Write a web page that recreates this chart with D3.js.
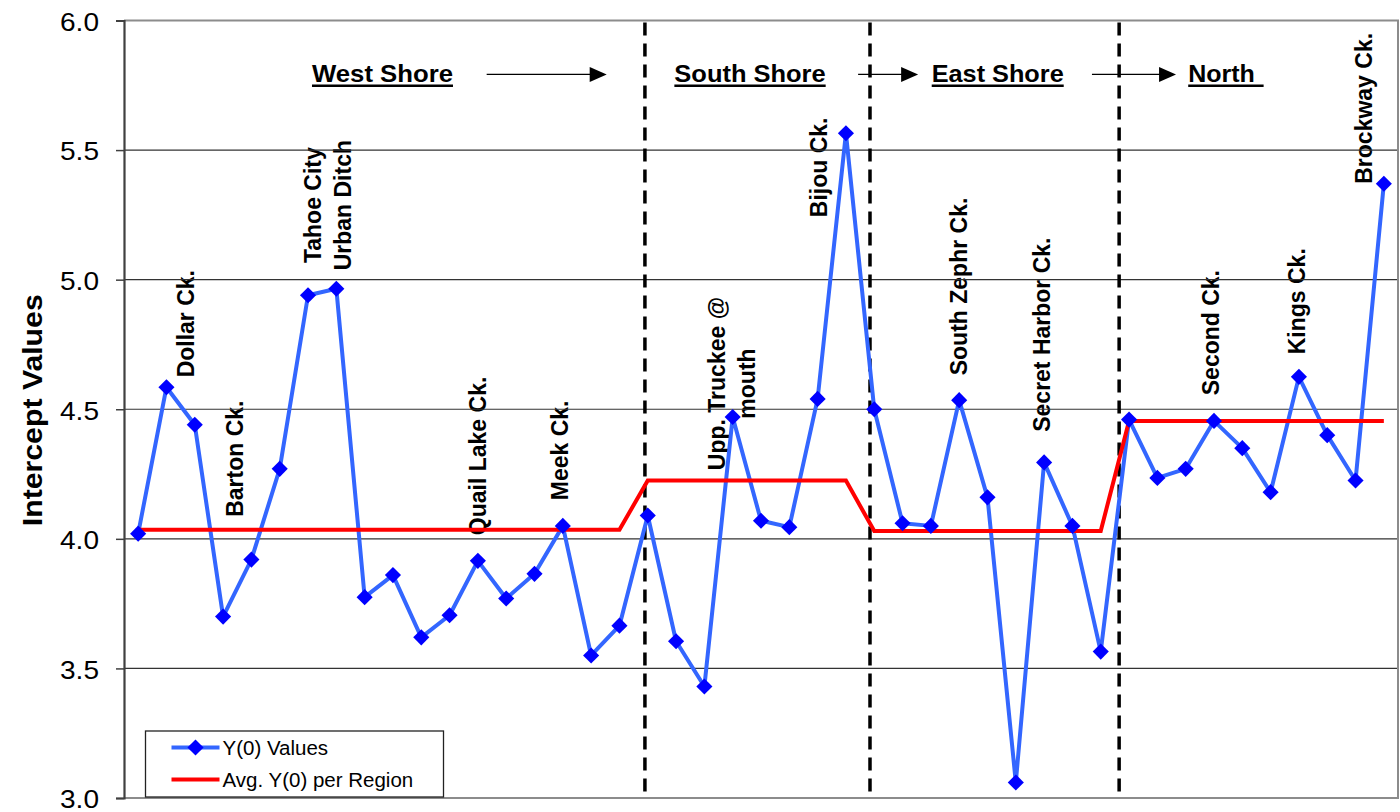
<!DOCTYPE html>
<html>
<head>
<meta charset="utf-8">
<script src="https://cdn.jsdelivr.net/npm/d3@7/dist/d3.min.js"></script>
<style>
  html, body { margin: 0; padding: 0; background: #fff; }
  svg { display: block; font-family: "Liberation Sans", Arial, sans-serif; }
</style>
</head>
<body>
<svg id="chart" width="1400" height="812"></svg>
<script>
// Y(0) intercept value for each sampling site, in shoreline order around the lake
const y0Values = [
  4.02, 4.585, 4.44, 3.70, 3.92, 4.27, 4.94, 4.965, 3.775, 3.86,
  3.62, 3.705, 3.915, 3.77, 3.865, 4.05, 3.55, 3.665, 4.09, 3.605,
  3.43, 4.47, 4.07, 4.045, 4.54, 5.565, 4.50, 4.06, 4.05, 4.535,
  4.16, 3.06, 4.295, 4.05, 3.565, 4.46, 4.235, 4.27, 4.455, 4.35,
  4.18, 4.625, 4.40, 4.225, 5.37
];

// Regions: name, first and last site index, mean Y(0)
const regionNames = ["West Shore", "South Shore", "East Shore", "North"];
const regionFirst = [0, 18, 26, 35];
const regionLast  = [17, 25, 34, 44];
const regionAvg   = [4.035, 4.225, 4.03, 4.455];

// Dashed separators between regions (site-index position)
const regionBreaks = [17.9, 25.85, 34.65];

// Region header positions (site-index of the left edge) and arrows between headers
const headerAt = [6.14, 18.94, 28.03, 37.09];
const arrows = [[12.31, 16.55], [25.43, 27.55], [33.69, 36.66]];

// Stream labels: text lines, horizontal centre (site index), bottom of text (value)
const siteLabels = [
  { lines: ["Dollar Ck."], at: 1.68, base: 4.623 },
  { lines: ["Barton Ck."], at: 3.42, base: 4.085 },
  { lines: ["Tahoe City", "Urban Ditch"], at: 6.71, base: 5.036 },
  { lines: ["Quail Lake Ck."], at: 12.0, base: 4.014 },
  { lines: ["Meek Ck."], at: 14.9, base: 4.149 },
  { lines: ["Upp. Truckee @", "mouth"], at: 20.97, base: 4.265 },
  { lines: ["Bijou Ck."], at: 24.05, base: 5.241 },
  { lines: ["South Zephr Ck."], at: 28.98, base: 4.631 },
  { lines: ["Secret Harbor Ck."], at: 31.94, base: 4.413 },
  { lines: ["Second Ck."], at: 37.89, base: 4.554 },
  { lines: ["Kings Ck."], at: 40.92, base: 4.712 },
  { lines: ["Brockway Ck."], at: 43.3, base: 5.37 }
];

const yTicks = [3.0, 3.5, 4.0, 4.5, 5.0, 5.5, 6.0];
const legendLabels = ["Y(0) Values", "Avg. Y(0) per Region"];

// ---- layout ----
const plot = { left: 124, right: 1398, top: 20.5, bottom: 798 };
const svg = d3.select("#chart");

const x = d3.scaleLinear().domain([-0.5, y0Values.length - 0.5]).range([plot.left, plot.right]);
const y = d3.scaleLinear().domain([3, 6]).range([plot.bottom, plot.top]);

const blueLine = "#3366ff", blueMark = "#0000ff", red = "#ff0000";

// site labels (sit beneath the grid lines)
const labelG = svg.append("g");
siteLabels.forEach(lab => {
  const g = labelG.append("g");
  const texts = lab.lines.map(t => g.append("text")
      .attr("font-size", 23).attr("font-weight", "bold").attr("fill", "#000")
      .attr("text-anchor", "middle").text(t));
  const maxLen = d3.max(texts, t => t.node().getComputedTextLength());
  const cy = y(lab.base) - maxLen / 2;
  const n = lab.lines.length;
  texts.forEach((t, k) => {
    const cx = x(lab.at) + (k - (n - 1) / 2) * 29.5;
    t.attr("transform", `translate(${cx},${cy}) rotate(-90)`).attr("dy", "0.35em");
  });
});

// horizontal grid lines
svg.append("g").selectAll("line")
  .data(yTicks.filter(v => v > 3 && v < 6))
  .join("line")
  .attr("x1", plot.left).attr("x2", plot.right)
  .attr("y1", d => y(d)).attr("y2", d => y(d))
  .attr("stroke", "#333").attr("stroke-width", 1.2);

// plot frame: top, right, bottom in grey
svg.append("path")
  .attr("d", `M${plot.left},${plot.top}H${plot.right}V${plot.bottom}H${plot.left}`)
  .attr("fill", "none").attr("stroke", "#8c8c8c").attr("stroke-width", 2);

// y axis
const yAxis = svg.append("g")
  .attr("transform", `translate(${plot.left},0)`)
  .call(d3.axisLeft(y).tickValues(yTicks).tickFormat(d3.format(".1f")).tickSize(8).tickPadding(17));
yAxis.select(".domain").attr("stroke", "#404040").attr("stroke-width", 2.2);
yAxis.selectAll(".tick line").attr("stroke", "#404040").attr("stroke-width", 1.5);
yAxis.selectAll(".tick text")
  .attr("font-size", 26).attr("fill", "#000")
  .attr("font-family", "'Liberation Sans', Arial, sans-serif")
  .attr("textLength", 39).attr("lengthAdjust", "spacingAndGlyphs")
  .attr("dy", "0.38em");

// axis title
svg.append("text")
  .attr("transform", `translate(42,${(plot.top + plot.bottom) / 2 + 1}) rotate(-90)`)
  .attr("text-anchor", "middle")
  .attr("font-size", 28).attr("font-weight", "bold")
  .attr("textLength", 232).attr("lengthAdjust", "spacingAndGlyphs")
  .text("Intercept Values");

// dashed region separators
svg.append("g").selectAll("line")
  .data(regionBreaks)
  .join("line")
  .attr("x1", d => x(d)).attr("x2", d => x(d))
  .attr("y1", plot.top + 2).attr("y2", plot.bottom)
  .attr("stroke", "#000").attr("stroke-width", 3.5)
  .attr("stroke-dasharray", "13,8");

// region headers with underline
const headerWidths = [141, 151.3, 132, 66.7];
const underlineWidths = [141, 151.3, 132, 75.4];
const headerBase = y(5.763);
regionNames.forEach((name, i) => {
  svg.append("text")
    .attr("x", x(headerAt[i])).attr("y", headerBase)
    .attr("font-size", 24).attr("font-weight", "bold")
    .attr("textLength", headerWidths[i]).attr("lengthAdjust", "spacingAndGlyphs")
    .text(name);
  svg.append("line")
    .attr("x1", x(headerAt[i])).attr("x2", x(headerAt[i]) + underlineWidths[i])
    .attr("y1", headerBase + 3.8).attr("y2", headerBase + 3.8)
    .attr("stroke", "#000").attr("stroke-width", 2.4);
});

// arrows between headers
const arrowY = y(5.792);
arrows.forEach(([a, b]) => {
  const x0 = x(a), x1 = x(b);
  svg.append("line")
    .attr("x1", x0).attr("x2", x1 - 14).attr("y1", arrowY).attr("y2", arrowY)
    .attr("stroke", "#000").attr("stroke-width", 1.4);
  svg.append("path")
    .attr("d", `M${x1},${arrowY}L${x1 - 17},${arrowY - 7.5}L${x1 - 17},${arrowY + 7.5}Z`)
    .attr("fill", "#000");
});

// Y(0) series line
const lineGen = d3.line().x(d => x(d[0])).y(d => y(d[1]));
const y0Points = y0Values.map((v, i) => [i, v]);
svg.append("path")
  .datum(y0Points)
  .attr("d", lineGen)
  .attr("fill", "none").attr("stroke", blueLine).attr("stroke-width", 4)
  .attr("stroke-linejoin", "round");

// regional average line, one level per region
const avgPoints = [];
regionAvg.forEach((v, r) => {
  for (let i = regionFirst[r]; i <= regionLast[r]; i++) avgPoints.push([i, v]);
});
svg.append("path")
  .datum(avgPoints)
  .attr("d", lineGen)
  .attr("fill", "none").attr("stroke", red).attr("stroke-width", 4)
  .attr("stroke-linejoin", "miter");

// diamond markers (squares turned 45 degrees)
const marker = d3.symbol().type(d3.symbolSquare).size(130);
svg.append("g").selectAll("path")
  .data(y0Points)
  .join("path")
  .attr("transform", d => `translate(${x(d[0])},${y(d[1])}) rotate(45)`)
  .attr("d", marker)
  .attr("fill", blueMark);

// legend
const lg = svg.append("g").attr("transform", "translate(145.5,731)");
lg.append("rect").attr("width", 298).attr("height", 66)
  .attr("fill", "#fff").attr("stroke", "#222").attr("stroke-width", 1.3);
lg.append("line").attr("x1", 26).attr("x2", 74).attr("y1", 16.5).attr("y2", 16.5)
  .attr("stroke", blueLine).attr("stroke-width", 4);
lg.append("path").attr("transform", "translate(50,16.5) rotate(45)")
  .attr("d", marker).attr("fill", blueMark);
lg.append("line").attr("x1", 26).attr("x2", 74).attr("y1", 48.5).attr("y2", 48.5)
  .attr("stroke", red).attr("stroke-width", 4);
legendLabels.forEach((t, i) => {
  lg.append("text").attr("x", 77).attr("y", 16.5 + i * 32).attr("dy", "0.36em")
    .attr("font-size", 20.5).text(t);
});
</script>
</body>
</html>
